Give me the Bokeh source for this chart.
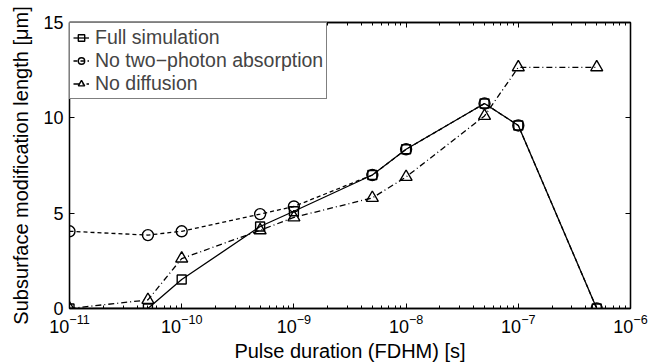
from bokeh.plotting import figure
from bokeh.models import LogAxis, LinearAxis, FixedTicker, Range1d, Legend, LegendItem
from bokeh.embed import file_html
from bokeh.resources import INLINE

durations = [1e-11, 5e-11, 1e-10, 5e-10, 1e-9, 5e-9, 1e-8, 5e-8, 1e-7, 5e-7]
full_sim = [0.0, 0.0, 1.52, 4.3, 5.1, 7.0, 8.35, 10.75, 9.6, 0.0]
no_tpa = [4.05, 3.85, 4.05, 4.95, 5.35, 7.0, 8.35, 10.75, 9.6, 0.0]
no_diff = [0.0, 0.45, 2.62, 4.1, 4.78, 5.8, 6.9, 10.1, 12.65, 12.65]
x_ticks = [1e-11, 1e-10, 1e-9, 1e-8, 1e-7, 1e-6]
y_ticks = [0, 5, 10, 15]

FONT = "Liberation Sans"
minor_x = [m * 10.0 ** e for e in range(-11, -6) for m in range(2, 10)]

p = figure(width=659, height=364, x_axis_type="log", output_backend="svg",
           toolbar_location=None, x_range=Range1d(1e-11, 1e-6), y_range=Range1d(0, 15),
           min_border_left=69, min_border_right=29, min_border_top=22, min_border_bottom=55)
p.xgrid.visible = False
p.ygrid.visible = False
p.outline_line_color = "black"
p.outline_line_width = 1.3
p.background_fill_color = "white"

series = [
    (full_sim, "Full simulation", "solid", "square", 9),
    (no_tpa, "No two\u2212photon absorption", "4 3", "circle", 11),
    (no_diff, "No diffusion", "6 3 1 3", "triangle", 12),
]
items = []
for ys, label, dash, marker, size in series:
    r1 = p.line(durations, ys, line_color="black", line_width=1.3, line_dash=dash)
    r2 = p.scatter(durations, ys, marker=marker, size=size, fill_color=None,
                   line_color="black", line_width=1.4)
    items.append(LegendItem(label=label, renderers=[r1, r2]))

legend = Legend(items=items, location="top_left")
legend.margin = 0
legend.padding = 3
legend.spacing = 0
legend.glyph_width = 16
legend.glyph_height = 23
legend.label_height = 23
legend.label_standoff = 6
legend.label_text_font = FONT
legend.label_text_font_size = "19.5px"
legend.border_line_color = "black"
legend.border_line_width = 1.3
legend.background_fill_alpha = 1.0
p.add_layout(legend, "center")

for ax in [p.xaxis[0], p.yaxis[0]]:
    ax.major_tick_in = 5
    ax.major_tick_out = 0
    ax.minor_tick_in = 3
    ax.minor_tick_out = 0
    ax.axis_line_color = "black"
    ax.axis_line_width = 1.3
    ax.major_label_text_font = FONT
    ax.major_label_text_font_size = "18px"
    ax.major_label_text_color = "black"
    ax.axis_label_text_font = FONT
    ax.axis_label_text_font_size = "20px"
    ax.axis_label_text_font_style = "normal"
    ax.axis_label_text_color = "black"

p.xaxis[0].ticker = FixedTicker(ticks=x_ticks, minor_ticks=minor_x)
p.yaxis[0].ticker = FixedTicker(ticks=y_ticks)
p.yaxis[0].minor_tick_in = 0
p.xaxis[0].axis_label = "Pulse duration (FDHM) [s]"
p.yaxis[0].axis_label = "Subsurface modification length [\u03bcm]"
p.xaxis[0].axis_label_standoff = 4
p.yaxis[0].axis_label_standoff = 8
p.xaxis[0].major_label_standoff = 5
p.yaxis[0].major_label_standoff = 6

top = LogAxis(ticker=FixedTicker(ticks=x_ticks, minor_ticks=minor_x),
              major_label_text_font_size="1px", major_label_text_alpha=0,
              major_label_standoff=0,
              major_tick_in=5, major_tick_out=0,
              minor_tick_in=3, minor_tick_out=0, axis_line_color="black", axis_line_width=1.3)
right = LinearAxis(ticker=FixedTicker(ticks=y_ticks), major_label_text_font_size="1px",
                   major_label_text_alpha=0, major_label_standoff=0,
                   major_tick_in=5, major_tick_out=0, minor_tick_in=0, minor_tick_out=0,
                   axis_line_color="black", axis_line_width=1.3)
p.add_layout(top, "above")
p.add_layout(right, "right")

open("out.html", "w").write(file_html(p, INLINE))
